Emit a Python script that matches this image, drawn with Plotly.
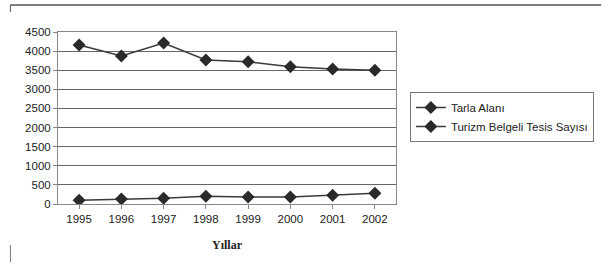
import plotly.graph_objects as go

years = ["1995", "1996", "1997", "1998", "1999", "2000", "2001", "2002"]
tarla_alani = [4160, 3870, 4210, 3770, 3720, 3590, 3530, 3500]
turizm_tesis = [100, 130, 150, 200, 180, 180, 230, 280]
y_ticks = [0, 500, 1000, 1500, 2000, 2500, 3000, 3500, 4000, 4500]

fig = go.Figure()
fig.add_trace(go.Scatter(x=years, y=tarla_alani, name="Tarla Alanı", mode="lines+markers",
                         line=dict(color="#3a3a3a", width=1.5),
                         marker=dict(symbol="diamond", size=10, color="#2a2a2a")))
fig.add_trace(go.Scatter(x=years, y=turizm_tesis, name="Turizm Belgeli Tesis Sayısı", mode="lines+markers",
                         line=dict(color="#3a3a3a", width=1.5),
                         marker=dict(symbol="diamond", size=10, color="#2a2a2a")))

L, R, T, B = 58, 207, 32, 59
pw, ph = 606 - L - R, 263 - T - B
def px(x): return (x - L) / pw
def py(y): return (263 - B - y) / ph

fig.update_layout(
    width=606, height=263,
    margin=dict(l=L, r=R, t=T, b=B),
    paper_bgcolor="white", plot_bgcolor="white",
    font=dict(family="Arial, Liberation Sans, sans-serif", size=11.5, color="#222"),
    xaxis=dict(type="category", range=[-0.5, 7.5], showgrid=False, automargin=False,
               showline=True, linecolor="#888", mirror=True,
               ticks="outside", ticklen=4, tickcolor="#888",
               title=dict(text="<b>Yıllar</b>", font=dict(family="Liberation Serif, serif", size=12), standoff=16)),
    yaxis=dict(range=[0, 4500], tickvals=y_ticks, showgrid=True, gridcolor="#666", gridwidth=1,
               showline=True, linecolor="#888", mirror=True, zeroline=False, automargin=False,
               ticks="outside", ticklen=4, tickcolor="#888"),
    legend=dict(x=px(413), y=py(92), xanchor="left", yanchor="top",
                bordercolor="#777", borderwidth=1, bgcolor="white",
                font=dict(size=11.5), tracegroupgap=2, itemwidth=30),
    showlegend=True,
)
fig.add_shape(type="line", xref="paper", yref="paper", x0=px(10), x1=px(606), y0=py(5), y1=py(5),
              line=dict(color="#555", width=1.5))
fig.add_shape(type="line", xref="paper", yref="paper", x0=px(10), x1=px(10), y0=py(5), y1=py(12),
              line=dict(color="#555", width=1))
fig.add_shape(type="line", xref="paper", yref="paper", x0=px(10), x1=px(10), y0=py(245), y1=py(262),
              line=dict(color="#777", width=1))
fig.write_html("out.html", config={"displayModeBar": False},
               post_script="document.body.style.margin='0px';document.body.style.overflow='hidden';")
